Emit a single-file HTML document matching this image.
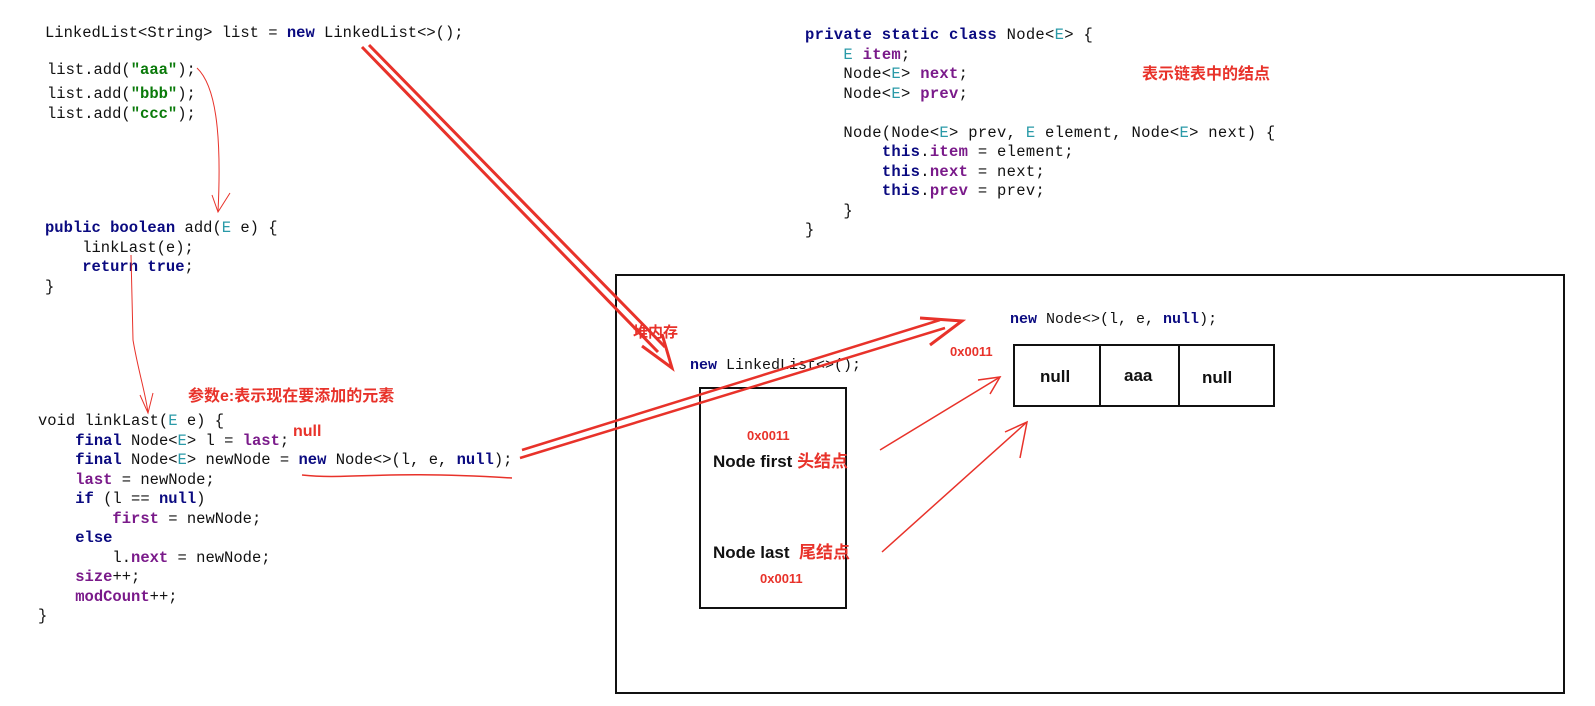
<!DOCTYPE html>
<html><head><meta charset="utf-8"><style>
body{margin:0;width:1595px;height:706px;background:#fff;position:relative;overflow:hidden;font-family:"Liberation Mono",monospace;}
pre{position:absolute;margin:0;font-family:"Liberation Mono",monospace;font-size:15.5px;line-height:19.5px;color:#111;}
.k{color:#0a0a80;font-weight:bold}
.g{color:#0a7a0a;font-weight:bold}
.t{color:#2a9aa8}
.p{color:#7a1a8a}
.pb{color:#7a1a8a;font-weight:bold}
.r{position:absolute;color:#e8322a;font-family:"Liberation Sans","Noto Sans CJK SC",sans-serif;font-weight:bold;white-space:nowrap}
.b{position:absolute;color:#111;font-family:"Liberation Sans","Noto Sans CJK SC",sans-serif;font-weight:bold;white-space:nowrap}
.box{position:absolute;border:2px solid #111;box-sizing:border-box}
</style></head><body>
<pre style="left:45px;top:24px">LinkedList&lt;String&gt; list = <span class="k">new</span> LinkedList&lt;&gt;();</pre>
<pre style="left:47px;top:61px">list.add(<span class="g">"aaa"</span>);</pre>
<pre style="left:47px;top:85px">list.add(<span class="g">"bbb"</span>);
list.add(<span class="g">"ccc"</span>);</pre>
<pre style="left:45px;top:219px"><span class="k">public boolean</span> add(<span class="t">E</span> e) {
    linkLast(e);
    <span class="k">return true</span>;
}</pre>
<pre style="left:38px;top:412px">void linkLast(<span class="t">E</span> e) {
    <span class="k">final</span> Node&lt;<span class="t">E</span>&gt; l = <span class="pb">last</span>;
    <span class="k">final</span> Node&lt;<span class="t">E</span>&gt; newNode = <span class="k">new</span> Node&lt;&gt;(l, e, <span class="k">null</span>);
    <span class="pb">last</span> = newNode;
    <span class="k">if</span> (l == <span class="k">null</span>)
        <span class="pb">first</span> = newNode;
    <span class="k">else</span>
        l.<span class="pb">next</span> = newNode;
    <span class="pb">size</span>++;
    <span class="pb">modCount</span>++;
}</pre>
<pre style="left:805px;top:26px;letter-spacing:0.3px"><span class="k">private static class</span> Node&lt;<span class="t">E</span>&gt; {
    <span class="t">E</span> <span class="pb">item</span>;
    Node&lt;<span class="t">E</span>&gt; <span class="pb">next</span>;
    Node&lt;<span class="t">E</span>&gt; <span class="pb">prev</span>;

    Node(Node&lt;<span class="t">E</span>&gt; prev, <span class="t">E</span> element, Node&lt;<span class="t">E</span>&gt; next) {
        <span class="k">this</span>.<span class="pb">item</span> = element;
        <span class="k">this</span>.<span class="pb">next</span> = next;
        <span class="k">this</span>.<span class="pb">prev</span> = prev;
    }
}</pre>
<div class="r" style="left:1142px;top:60px;font-size:16px">表示链表中的结点</div>
<div class="r" style="left:188px;top:382px;font-size:16px">参数e:表示现在要添加的元素</div>
<div class="r" style="left:293px;top:423px;font-size:16px">null</div>

<div class="box" style="left:615px;top:274px;width:950px;height:420px"></div>
<div class="r" style="left:633px;top:321px;font-size:15px">堆内存</div>
<pre style="left:690px;top:356px;font-size:15px"><span class="k">new</span> LinkedList&lt;&gt;();</pre>
<div class="box" style="left:699px;top:387px;width:148px;height:222px"></div>
<div class="r" style="left:747px;top:428px;font-size:13px">0x0011</div>
<div class="b" style="left:713px;top:447px;font-size:17px">Node first <span style="color:#e8322a">头结点</span></div>
<div class="b" style="left:713px;top:538px;font-size:17px">Node last&nbsp; <span style="color:#e8322a">尾结点</span></div>
<div class="r" style="left:760px;top:571px;font-size:13px">0x0011</div>
<pre style="left:1010px;top:310px;font-size:15px"><span class="k">new</span> Node&lt;&gt;(l, e, <span class="k">null</span>);</pre>
<div class="r" style="left:950px;top:344px;font-size:13px">0x0011</div>
<div class="box" style="left:1013px;top:344px;width:262px;height:63px"></div>
<div style="position:absolute;left:1099px;top:346px;width:2px;height:59px;background:#111"></div>
<div style="position:absolute;left:1178px;top:346px;width:2px;height:59px;background:#111"></div>
<div class="b" style="left:1040px;top:367px;font-size:17px">null</div>
<div class="b" style="left:1124px;top:366px;font-size:17px">aaa</div>
<div class="b" style="left:1202px;top:368px;font-size:17px">null</div>

<svg width="1595" height="706" style="position:absolute;left:0;top:0" fill="none" stroke="#e8322a">
<path d="M197 68 C215 85 222 130 218 212" stroke-width="1"/>
<path d="M212 195 L218 212 L230 193" stroke-width="1"/>
<path d="M131 255 L133 340 C138 370 146 395 148 413" stroke-width="1"/>
<path d="M140 395 L148 413 L153 393" stroke-width="1"/>
<path d="M302 475 C350 480 380 470 512 478" stroke-width="1.5"/>
<path d="M362 47 L658 352 M369 45 L665 347" stroke-width="3"/>
<path d="M642 346 L672 368 L662 334" stroke-width="3"/>
<path d="M520 458 L945 328 M522 450 L940 320" stroke-width="2.5"/>
<path d="M920 318 L962 321 L930 345" stroke-width="3"/>
<path d="M880 450 L1000 377" stroke-width="1.5"/>
<path d="M978 380 L1000 377 L990 394" stroke-width="1.5"/>
<path d="M882 552 L1027 422" stroke-width="1.5"/>
<path d="M1005 432 L1027 422 L1020 458" stroke-width="1.5"/>
</svg>
</body></html>
